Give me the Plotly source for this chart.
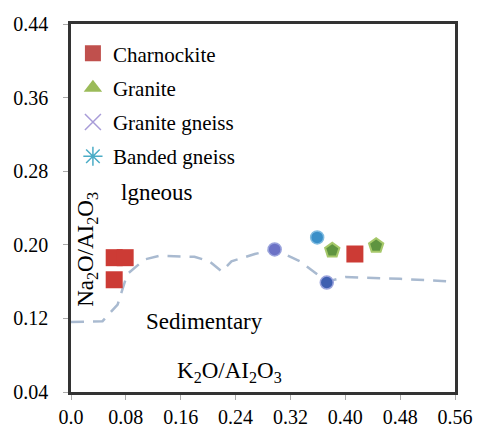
import plotly.graph_objects as go

# ---- data ----
char_x = [0.063, 0.079, 0.063, 0.414]
char_y = [0.186, 0.186, 0.162, 0.190]

granite_x = [0.381, 0.445]
granite_y = [0.194, 0.199]

ggneiss_x = [0.297, 0.373]
ggneiss_y = [0.195, 0.159]

bgneiss_x = [0.359]
bgneiss_y = [0.208]

line_x = [0.0, 0.046, 0.068, 0.082, 0.107, 0.129, 0.18, 0.202, 0.22, 0.234, 0.268,
          0.297, 0.334, 0.373, 0.40, 0.48, 0.56]
line_y = [0.116, 0.117, 0.135, 0.168, 0.184, 0.188, 0.187, 0.182, 0.171, 0.182, 0.19,
          0.195, 0.182, 0.16, 0.165, 0.163, 0.16]

x_ticks = [0.0, 0.08, 0.16, 0.24, 0.32, 0.40, 0.48, 0.56]
x_ticklabels = ["0.0", "0.08", "0.16", "0.24", "0.32", "0.40", "0.48", "0.56"]
y_ticks = [0.04, 0.12, 0.20, 0.28, 0.36, 0.44]
y_ticklabels = ["0.04", "0.12", "0.20", "0.28", "0.36", "0.44"]

FONT = "Times New Roman, Liberation Serif, serif"

fig = go.Figure()

# boundary line
fig.add_trace(go.Scatter(x=line_x, y=line_y, mode="lines", showlegend=False,
                         line=dict(color="#a9bad0", width=2.5, dash="13px,9px"),
                         hoverinfo="skip"))

# data traces
fig.add_trace(go.Scatter(x=char_x, y=char_y, mode="markers", showlegend=False,
                         marker=dict(symbol="square", size=17, color="#cc3b35",
                                     line=dict(width=0))))
fig.add_trace(go.Scatter(x=granite_x, y=granite_y, mode="markers", showlegend=False,
                         marker=dict(symbol="pentagon", size=15, color="#5f9440",
                                     line=dict(color="#a6c86a", width=2))))
fig.add_trace(go.Scatter(x=ggneiss_x, y=ggneiss_y, mode="markers", showlegend=False,
                         marker=dict(symbol="circle", size=13, color=["#6c72c6", "#3f5fb0"],
                                     line=dict(color="#9aa3dc", width=1.5))))
fig.add_trace(go.Scatter(x=bgneiss_x, y=bgneiss_y, mode="markers", showlegend=False,
                         marker=dict(symbol="circle", size=13, color="#3a8fc8",
                                     line=dict(color="#7fbbe0", width=1.5))))

# legend-only entries
fig.add_trace(go.Scatter(x=[None], y=[None], mode="markers", name="Charnockite",
                         legendgroup="a",
                         marker=dict(symbol="square", size=18, color="#c0504d")))
fig.add_trace(go.Scatter(x=[None], y=[None], mode="markers", name="Granite",
                         legendgroup="b",
                         marker=dict(symbol="triangle-up", size=16, color="#9bbb59")))
fig.add_trace(go.Scatter(x=[None], y=[None], mode="markers", name="Granite gneiss",
                         legendgroup="c",
                         marker=dict(symbol="x-thin-open", size=16, color="#a89cd8",
                                     line=dict(color="#a89cd8", width=1.5))))
fig.add_trace(go.Scatter(x=[None], y=[None], mode="markers", name="Banded gneiss",
                         legendgroup="d",
                         marker=dict(symbol="asterisk-open", size=16, color="#4bacc6",
                                     line=dict(color="#4bacc6", width=1.5))))

# page body has an 8px default margin: figure offsets are -8px
fig.update_layout(
    template="none",
    width=475, height=418,
    margin=dict(l=63, r=28, t=16, b=34, autoexpand=False),
    paper_bgcolor="white", plot_bgcolor="white",
    font=dict(family=FONT, size=20, color="black"),
    showlegend=True,
    legend=dict(x=0.005, y=0.975, xanchor="left", yanchor="top",
                bgcolor="rgba(0,0,0,0)", traceorder="grouped", tracegroupgap=4,
                font=dict(family=FONT, size=21, color="black"), itemsizing="trace"),
    xaxis=dict(range=[0, 0.56], tickvals=x_ticks, ticktext=x_ticklabels,
               showgrid=False, zeroline=False, showline=True, mirror=True,
               linecolor="#333", linewidth=2.5, ticks="outside", ticklen=5,
               tickcolor="#aaa", ticklabelstandoff=0, automargin=False,
               tickfont=dict(family=FONT, size=20, color="black")),
    yaxis=dict(range=[0.04, 0.44], tickvals=y_ticks, ticktext=y_ticklabels,
               showgrid=False, zeroline=False, showline=True, mirror=True,
               linecolor="#333", linewidth=2.5, ticks="outside", ticklen=5,
               tickcolor="#aaa", ticklabelstandoff=11, automargin=False,
               tickfont=dict(family=FONT, size=20, color="black")),
    annotations=[
        dict(x=0.125, y=0.257, xref="x", yref="y", text="lgneous", showarrow=False,
             font=dict(family=FONT, size=23, color="black")),
        dict(x=0.194, y=0.117, xref="x", yref="y", text="Sedimentary", showarrow=False,
             font=dict(family=FONT, size=23, color="black")),
        dict(x=0.231, y=0.062, xref="x", yref="y", text="K<sub>2</sub>O/AI<sub>2</sub>O<sub>3</sub>",
             showarrow=False, font=dict(family=FONT, size=23, color="black")),
        dict(x=0.024, y=0.195, xref="x", yref="y", text="Na<sub>2</sub>O/AI<sub>2</sub>O<sub>3</sub>",
             textangle=-90, showarrow=False, font=dict(family=FONT, size=23, color="black")),
    ],
)

fig.write_html("out.html")
